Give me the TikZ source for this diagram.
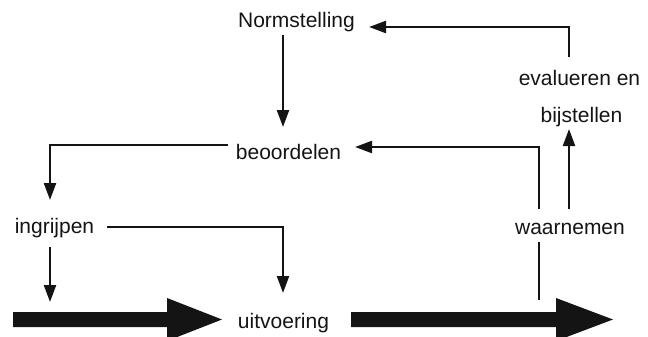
\documentclass[tikz,border=0pt]{standalone}
\usepackage{fontspec}
\setmainfont{Liberation Sans}
\usetikzlibrary{arrows.meta,calc}
\begin{document}
\begin{tikzpicture}[x=1pt,y=-1pt,
  lbl/.style={inner sep=0pt,anchor=base,font=\fontsize{21}{25}\selectfont,text=black!92},
  conn/.style={line width=2.2pt,draw=black!92},
  arr/.style={conn,-{Triangle[width=12pt,length=17pt]}},
  bigarrow/.style={fill=black!92}]
\useasboundingbox (0,0) rectangle (648,337);
\clip (0,0) rectangle (648,337);
% labels
\node[lbl] (norm) at (296.5,28) {Normstelling};
\node[lbl] (beo)  at (288.5,159) {beoordelen};
\node[lbl] (ingr) at (54.5,233) {ingrijpen};
\node[lbl] (uitv) at (283.5,328) {uitvoering};
\node[lbl] (waar) at (570,234) {waarnemen};
\node[lbl] (eval) at (579.5,85) {evalueren en};
\node[lbl] (bij)  at (581.5,122) {bijstellen};
% big arrows
\fill[bigarrow] (13,312) -- (167,312) -- (167,298) -- (222,319.5) -- (167,341) -- (167,327) -- (13,327) -- cycle;
\fill[bigarrow] (351,312) -- (556,312) -- (556,298) -- (613,319.5) -- (556,341) -- (556,327) -- (351,327) -- cycle;
\coordinate (flowA) at (50,302);
\coordinate (flowB) at (539,300);
% connectors
\draw[arr] ($(eval.base)+(-10.5,-28)$) |- ($(norm.base)+(72.5,-1)$);
\draw[arr] ($(norm.base)+(-13.5,7)$) -- ($(beo.base)+(-5.5,-32)$);
\draw[arr] ($(beo.base)+(-60.5,-14)$) -| ($(ingr.base)+(-4.5,-33)$);
\draw[conn] (flowB) -- ($(waar.base)+(-31,8)$);
\draw[arr] ($(waar.base)+(-31,-25)$) |- ($(beo.base)+(66.5,-12)$);
\draw[arr] ($(waar.base)+(-1,-25)$) -- ($(bij.base)+(-12.5,7)$);
\draw[arr] ($(ingr.base)+(52.5,-6)$) -| ($(uitv.base)+(-0.5,-35)$);
\draw[arr] ($(ingr.base)+(-4.5,14)$) -- (flowA);
\end{tikzpicture}
\end{document}
